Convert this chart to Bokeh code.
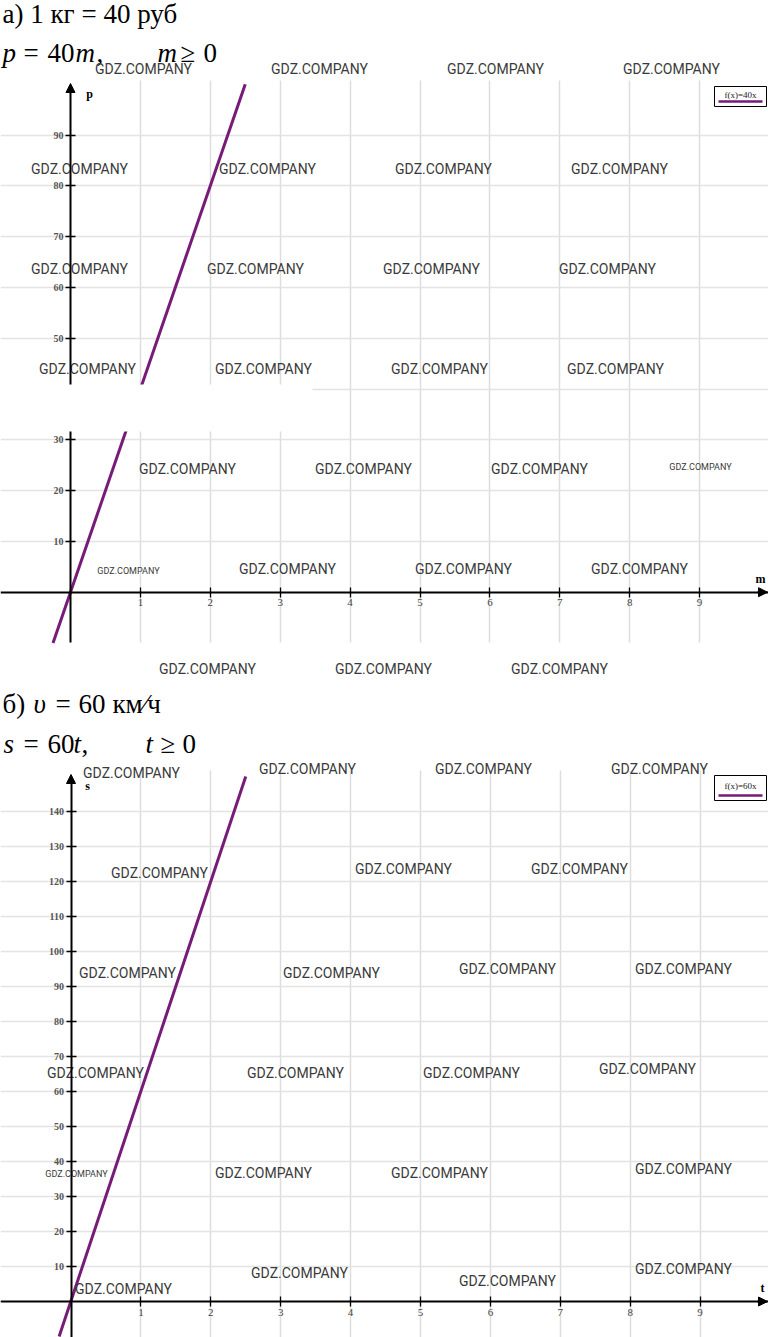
from bokeh.plotting import figure
from bokeh.layouts import column
from bokeh.models import Range1d, Arrow, NormalHead, BoxAnnotation, FixedTicker
from bokeh.core.properties import value
from bokeh.embed import file_html
from bokeh.resources import INLINE

# ---------------- data ----------------
# (a) 1 kg = 40 rub : p = 40 m
a_m = [-0.25, 2.5]
a_p = [-10.0, 100.0]
a_x_ticks = [1, 2, 3, 4, 5, 6, 7, 8, 9]
a_y_ticks = [10, 20, 30, 40, 50, 60, 70, 80, 90]
a_legend = "f(x)=40x"
a_x_name = "m"
a_y_name = "p"

# (b) v = 60 km/h : s = 60 t
b_t = [-0.17, 2.5]
b_s = [-10.0, 150.0]
b_x_ticks = [1, 2, 3, 4, 5, 6, 7, 8, 9]
b_y_ticks = [10, 20, 30, 40, 50, 60, 70, 80, 90, 100, 110, 120, 130, 140]
b_legend = "f(x)=60x"
b_x_name = "t"
b_y_name = "s"

WATERMARK = "GDZ.COMPANY"

# ---------------- layout helpers ----------------
W = 768
SERIF = "Liberation Serif"
WM_FONT = "Roboto"
PURPLE = "#761b77"


class Frame:
    """maps reference-image pixels of one panel onto that panel's data space"""
    def __init__(self, top, bottom, ox, oy, kx, ky):
        self.top, self.bottom = top, bottom
        self.ox, self.oy, self.kx, self.ky = ox, oy, kx, ky

    def x(self, px):
        return (px - self.ox) / self.kx

    def y(self, py):
        return (self.oy - py) / self.ky


def make_chart(fr, xs, ys, xt, yt, legend, xname, yname, heads, marks,
               name_pos, legend_box, grid_top, grid_bottom, axis_top, axis_bottom,
               mask=None):
    p = figure(width=W, height=fr.bottom - fr.top,
               x_range=Range1d(fr.x(0), fr.x(768)),
               y_range=Range1d(fr.y(fr.bottom), fr.y(fr.top)),
               output_backend="svg", toolbar_location=None,
               min_border=0, outline_line_color=None)

    # axes through the origin
    p.xaxis.fixed_location = 0
    p.yaxis.fixed_location = 0
    p.xaxis.ticker = FixedTicker(ticks=xt)
    p.yaxis.ticker = FixedTicker(ticks=yt)
    p.yaxis.bounds = (fr.y(axis_bottom), fr.y(axis_top + 6))
    for ax in (p.xaxis[0], p.yaxis[0]):
        ax.axis_line_width = 2
        ax.axis_line_color = "black"
        ax.major_tick_in = 5
        ax.major_tick_out = 5
        ax.major_tick_line_width = 1.3
        ax.major_tick_line_color = "black"
        ax.minor_tick_in = 0
        ax.minor_tick_out = 0
        ax.major_label_text_font = SERIF
        ax.major_label_standoff = 2
    p.xaxis.major_label_text_font_size = "11px"
    p.xaxis.major_label_text_color = "#444444"
    p.yaxis.major_label_text_font_size = "10px"
    p.yaxis.major_label_text_font_style = "bold"
    p.yaxis.major_label_text_color = "#555555"

    # grid
    p.xgrid.grid_line_color = "#dddddd"
    p.xgrid.grid_line_width = 1.5
    p.ygrid.grid_line_color = "#e3e3e3"
    p.ygrid.grid_line_width = 1.5
    try:
        p.xgrid.cross_bounds = (fr.y(grid_bottom), fr.y(grid_top))
    except Exception:
        pass

    # axis arrow heads
    p.add_layout(Arrow(end=NormalHead(size=9, fill_color="black", line_color="black"),
                       x_start=0, y_start=fr.y(axis_top + 8), x_end=0, y_end=fr.y(axis_top),
                       line_width=2, line_color="black"))
    p.add_layout(Arrow(end=NormalHead(size=9, fill_color="black", line_color="black"),
                       x_start=fr.x(757), y_start=0, x_end=fr.x(767), y_end=0,
                       line_width=2, line_color="black"))

    # data line
    p.line(xs, ys, line_color=PURPLE, line_width=3)

    # axis names
    p.text(x=[fr.x(name_pos[0][0]), fr.x(name_pos[1][0])],
           y=[fr.y(name_pos[0][1]), fr.y(name_pos[1][1])],
           text=[xname, yname], text_font=value(SERIF), text_font_style="bold",
           text_font_size="12px", text_align="center", text_baseline="middle",
           text_color="black")

    # legend box
    l, t, r, b = legend_box
    p.quad(left=[fr.x(l)], right=[fr.x(r)], top=[fr.y(t)], bottom=[fr.y(b)],
           fill_color="white", line_color="black", line_width=1)
    p.text(x=[fr.x((l + r) / 2)], y=[fr.y(t + (b - t) * 0.42)], text=[legend],
           text_font=value(SERIF), text_font_size="9px", text_align="center",
           text_baseline="middle", text_color="#1a1a1a")
    p.line([fr.x(l + 4), fr.x(r - 4)], [fr.y(b - 5), fr.y(b - 5)],
           line_color=PURPLE, line_width=2.5)

    # headings (y = vertical centre of the digits)
    for italic in (False, True):
        sel = [h for h in heads if h[3] == italic]
        if sel:
            p.text(x=[fr.x(h[0]) for h in sel], y=[fr.y(h[1]) for h in sel],
                   text=[h[2] for h in sel], text_font=value(SERIF),
                   text_font_style="italic" if italic else "normal",
                   text_font_size="27px", text_align="left",
                   text_baseline="middle", text_color="black")

    if mask is not None:
        ml, mt, mr, mb = mask
        p.add_layout(BoxAnnotation(left=fr.x(ml), right=fr.x(mr), top=fr.y(mt),
                                   bottom=fr.y(mb), fill_color="white", fill_alpha=1,
                                   line_alpha=0))

    # watermarks
    for size in (14, 9):
        sel = [m for m in marks if m[2] == size]
        if sel:
            p.text(x=[fr.x(m[0]) for m in sel], y=[fr.y(m[1]) for m in sel],
                   text=[WATERMARK] * len(sel), text_font=value(WM_FONT),
                   text_font_size=f"{size}px", text_align="center",
                   text_baseline="middle", text_color="#3a3a3a")
    return p


fa = Frame(0, 690, 70.0, 591.7, 69.9, 5.08)
fb = Frame(690, 1337, 70.5, 1301.0, 69.9, 3.5)

heads_a = [(2, 13, "а) 1 кг = 40 руб", False),
           (2, 52, "p", True), (23, 52, "=", False), (47, 52, "40", False),
           (75, 52, "m", True), (96, 52, ",", False), (157, 52, "m", True),
           (180, 52, "≥", False), (203, 52, "0", False)]
heads_b = [(2, 703, "б)", False), (33, 703, "υ", True), (55, 703, "=", False),
           (78, 703, "60", False), (112, 703, "км⁄ч", False),
           (3, 743, "s", True), (23, 743, "=", False), (47, 743, "60", False),
           (73, 743, "t", True), (81, 743, ",", False), (145, 743, "t", True),
           (160, 743, "≥", False), (182, 743, "0", False)]

marks_a = [(143, 68, 14), (319, 68, 14), (495, 68, 14), (671, 68, 14),
           (79, 168, 14), (267, 168, 14), (443, 168, 14), (619, 168, 14),
           (79, 268, 14), (255, 268, 14), (431, 268, 14), (607, 268, 14),
           (87, 368, 14), (263, 368, 14), (439, 368, 14), (615, 368, 14),
           (187, 468, 14), (363, 468, 14), (539, 468, 14), (700, 466, 9),
           (128, 570, 9), (287, 568, 14), (463, 568, 14), (639, 568, 14),
           (207, 668, 14), (383, 668, 14), (559, 668, 14)]
marks_b = [(131, 772, 14), (307, 768, 14), (483, 768, 14), (659, 768, 14),
           (159, 872, 14), (403, 868, 14), (579, 868, 14),
           (127, 972, 14), (331, 972, 14), (507, 968, 14), (683, 968, 14),
           (95, 1072, 14), (295, 1072, 14), (471, 1072, 14), (647, 1068, 14),
           (76, 1173, 9), (263, 1172, 14), (439, 1172, 14), (683, 1168, 14),
           (299, 1272, 14), (507, 1280, 14), (683, 1268, 14), (123, 1288, 14)]

pa = make_chart(fa, a_m, a_p, a_x_ticks, a_y_ticks, a_legend, a_x_name, a_y_name,
                heads_a, marks_a, [(760, 578), (89, 93)], (714, 86, 766, 106),
                80, 642, 83, 642, mask=(-5, 384, 312, 431))
pb = make_chart(fb, b_t, b_s, b_x_ticks, b_y_ticks, b_legend, b_x_name, b_y_name,
                heads_b, marks_b, [(762, 1287), (87, 785)], (714, 775, 766, 800),
                770, 1340, 774, 1340)

layout = column(pa, pb, spacing=0)
open("out.html", "w").write(file_html(layout, INLINE))
